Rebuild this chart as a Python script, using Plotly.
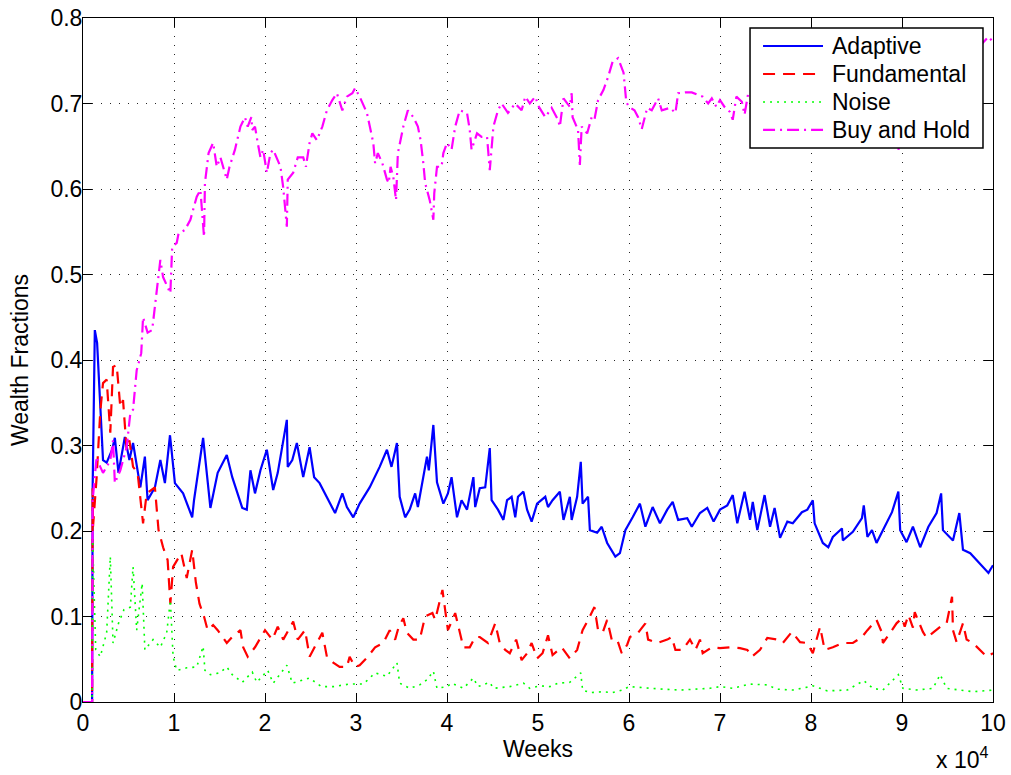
import plotly.graph_objects as go

# x values in units of 10^4 weeks
adaptive_x = [0, 0.10, 0.106, 0.13, 0.155, 0.19, 0.22, 0.26, 0.32, 0.35, 0.39, 0.46, 0.51, 0.55, 0.63, 0.68, 0.71, 0.79, 0.85, 0.90, 0.956, 1.01, 1.10, 1.20, 1.22, 1.32, 1.40, 1.48, 1.58, 1.64, 1.75, 1.80, 1.84, 1.89, 1.95, 2.02, 2.09, 2.14, 2.24, 2.25, 2.30, 2.35, 2.42, 2.49, 2.54, 2.60, 2.68, 2.77, 2.85, 2.90, 2.97, 3.04, 3.15, 3.26, 3.34, 3.39, 3.45, 3.48, 3.54, 3.59, 3.65, 3.68, 3.78, 3.80, 3.85, 3.89, 3.96, 4.01, 4.05, 4.11, 4.16, 4.22, 4.29, 4.31, 4.36, 4.42, 4.47, 4.49, 4.56, 4.62, 4.66, 4.71, 4.75, 4.78, 4.84, 4.88, 4.93, 4.99, 5.08, 5.11, 5.16, 5.24, 5.28, 5.35, 5.37, 5.43, 5.47, 5.49, 5.55, 5.57, 5.65, 5.70, 5.76, 5.85, 5.90, 5.96, 6.04, 6.12, 6.18, 6.26, 6.34, 6.42, 6.48, 6.54, 6.64, 6.69, 6.78, 6.86, 6.93, 7.00, 7.08, 7.14, 7.19, 7.27, 7.33, 7.36, 7.41, 7.49, 7.55, 7.60, 7.66, 7.74, 7.80, 7.90, 7.96, 8.02, 8.04, 8.13, 8.19, 8.24, 8.34, 8.35, 8.46, 8.56, 8.58, 8.62, 8.67, 8.72, 8.79, 8.89, 8.96, 8.98, 9.05, 9.12, 9.20, 9.29, 9.38, 9.43, 9.45, 9.56, 9.63, 9.67, 9.75, 9.82, 9.89, 9.95, 10.0]
adaptive_y = [0, 0, 0.25, 0.435, 0.42, 0.345, 0.283, 0.28, 0.295, 0.309, 0.268, 0.31, 0.283, 0.303, 0.251, 0.287, 0.236, 0.251, 0.283, 0.256, 0.312, 0.256, 0.244, 0.216, 0.236, 0.309, 0.227, 0.268, 0.289, 0.263, 0.227, 0.225, 0.271, 0.244, 0.271, 0.295, 0.248, 0.268, 0.330, 0.275, 0.283, 0.303, 0.263, 0.298, 0.263, 0.256, 0.240, 0.221, 0.244, 0.228, 0.216, 0.232, 0.251, 0.275, 0.295, 0.275, 0.303, 0.240, 0.216, 0.225, 0.244, 0.228, 0.287, 0.271, 0.324, 0.257, 0.232, 0.244, 0.263, 0.216, 0.236, 0.225, 0.263, 0.228, 0.250, 0.251, 0.297, 0.236, 0.225, 0.213, 0.236, 0.240, 0.216, 0.240, 0.246, 0.225, 0.211, 0.232, 0.240, 0.228, 0.236, 0.246, 0.213, 0.240, 0.213, 0.240, 0.281, 0.232, 0.240, 0.201, 0.198, 0.205, 0.186, 0.170, 0.174, 0.201, 0.216, 0.232, 0.205, 0.228, 0.209, 0.225, 0.234, 0.213, 0.215, 0.205, 0.221, 0.227, 0.211, 0.225, 0.230, 0.242, 0.209, 0.246, 0.213, 0.234, 0.201, 0.242, 0.205, 0.227, 0.192, 0.211, 0.209, 0.222, 0.225, 0.236, 0.209, 0.186, 0.181, 0.193, 0.203, 0.189, 0.199, 0.215, 0.230, 0.193, 0.201, 0.186, 0.201, 0.222, 0.246, 0.201, 0.187, 0.205, 0.181, 0.205, 0.221, 0.244, 0.201, 0.189, 0.221, 0.178, 0.174, 0.166, 0.158, 0.151, 0.160]

fundamental_x = [0, 0.10, 0.106, 0.11, 0.15, 0.19, 0.22, 0.26, 0.30, 0.33, 0.37, 0.41, 0.44, 0.48, 0.51, 0.55, 0.60, 0.66, 0.70, 0.79, 0.83, 0.88, 0.93, 0.96, 0.99, 1.08, 1.14, 1.20, 1.24, 1.28, 1.33, 1.37, 1.43, 1.48, 1.58, 1.64, 1.73, 1.76, 1.81, 1.89, 1.95, 2.00, 2.08, 2.14, 2.20, 2.31, 2.36, 2.44, 2.49, 2.57, 2.63, 2.68, 2.75, 2.82, 2.90, 2.93, 2.99, 3.04, 3.13, 3.21, 3.30, 3.37, 3.43, 3.47, 3.52, 3.56, 3.63, 3.70, 3.76, 3.84, 3.87, 3.95, 3.98, 4.01, 4.09, 4.14, 4.18, 4.25, 4.31, 4.36, 4.45, 4.53, 4.58, 4.64, 4.69, 4.76, 4.82, 4.88, 4.93, 4.99, 5.05, 5.11, 5.16, 5.26, 5.35, 5.43, 5.49, 5.57, 5.62, 5.66, 5.71, 5.76, 5.81, 5.87, 5.92, 5.98, 6.01, 6.10, 6.18, 6.21, 6.31, 6.42, 6.47, 6.51, 6.59, 6.67, 6.73, 6.78, 6.81, 6.91, 7.00, 7.11, 7.22, 7.30, 7.35, 7.44, 7.52, 7.63, 7.69, 7.79, 7.88, 7.96, 8.02, 8.10, 8.15, 8.24, 8.35, 8.46, 8.56, 8.62, 8.67, 8.72, 8.78, 8.79, 8.87, 8.94, 9.00, 9.03, 9.07, 9.12, 9.14, 9.23, 9.27, 9.34, 9.42, 9.49, 9.55, 9.56, 9.60, 9.67, 9.71, 9.78, 9.85, 9.93, 10.0]
fundamental_y = [0, 0, 0.25, 0.205, 0.263, 0.34, 0.373, 0.377, 0.315, 0.392, 0.394, 0.345, 0.353, 0.295, 0.306, 0.275, 0.268, 0.209, 0.244, 0.251, 0.201, 0.181, 0.166, 0.115, 0.158, 0.174, 0.145, 0.178, 0.140, 0.115, 0.100, 0.084, 0.090, 0.084, 0.069, 0.076, 0.084, 0.064, 0.053, 0.064, 0.075, 0.084, 0.073, 0.088, 0.073, 0.094, 0.073, 0.084, 0.053, 0.069, 0.081, 0.053, 0.046, 0.041, 0.041, 0.053, 0.041, 0.043, 0.053, 0.064, 0.069, 0.084, 0.073, 0.088, 0.098, 0.081, 0.073, 0.073, 0.100, 0.104, 0.096, 0.131, 0.104, 0.084, 0.104, 0.081, 0.064, 0.064, 0.076, 0.076, 0.069, 0.092, 0.069, 0.061, 0.057, 0.073, 0.049, 0.057, 0.069, 0.051, 0.057, 0.078, 0.055, 0.064, 0.051, 0.061, 0.084, 0.100, 0.111, 0.084, 0.081, 0.096, 0.073, 0.073, 0.057, 0.067, 0.076, 0.081, 0.092, 0.073, 0.069, 0.073, 0.076, 0.061, 0.061, 0.073, 0.061, 0.073, 0.057, 0.064, 0.063, 0.064, 0.063, 0.061, 0.053, 0.061, 0.075, 0.073, 0.069, 0.082, 0.070, 0.069, 0.057, 0.088, 0.061, 0.064, 0.069, 0.069, 0.076, 0.084, 0.090, 0.096, 0.081, 0.069, 0.081, 0.092, 0.098, 0.088, 0.102, 0.087, 0.105, 0.082, 0.075, 0.081, 0.088, 0.092, 0.123, 0.084, 0.070, 0.092, 0.073, 0.069, 0.061, 0.053, 0.057]

noise_x = [0, 0.10, 0.106, 0.14, 0.19, 0.26, 0.30, 0.33, 0.39, 0.45, 0.52, 0.55, 0.59, 0.65, 0.68, 0.77, 0.85, 0.92, 0.96, 0.99, 1.03, 1.14, 1.25, 1.32, 1.34, 1.40, 1.50, 1.58, 1.64, 1.75, 1.86, 1.91, 2.03, 2.09, 2.24, 2.30, 2.49, 2.62, 2.75, 2.93, 3.08, 3.21, 3.34, 3.45, 3.48, 3.59, 3.70, 3.78, 3.85, 3.89, 4.00, 4.05, 4.18, 4.29, 4.34, 4.47, 4.51, 4.69, 4.84, 4.91, 5.02, 5.13, 5.22, 5.35, 5.47, 5.49, 5.57, 5.71, 5.82, 5.93, 6.00, 6.20, 6.37, 6.56, 6.75, 6.89, 7.00, 7.14, 7.33, 7.52, 7.63, 7.80, 7.99, 8.02, 8.18, 8.40, 8.58, 8.68, 8.79, 8.96, 9.01, 9.16, 9.34, 9.42, 9.49, 9.63, 9.78, 10.0]
noise_y = [0, 0, 0.19, 0.061, 0.053, 0.081, 0.17, 0.069, 0.092, 0.108, 0.111, 0.158, 0.084, 0.139, 0.061, 0.073, 0.064, 0.081, 0.119, 0.053, 0.037, 0.040, 0.041, 0.065, 0.037, 0.032, 0.034, 0.041, 0.032, 0.023, 0.035, 0.023, 0.037, 0.022, 0.043, 0.022, 0.028, 0.018, 0.018, 0.021, 0.021, 0.034, 0.030, 0.046, 0.022, 0.016, 0.020, 0.026, 0.036, 0.016, 0.018, 0.022, 0.016, 0.028, 0.018, 0.023, 0.016, 0.018, 0.022, 0.016, 0.019, 0.018, 0.022, 0.023, 0.034, 0.014, 0.011, 0.012, 0.011, 0.014, 0.018, 0.016, 0.015, 0.014, 0.015, 0.016, 0.018, 0.016, 0.021, 0.020, 0.015, 0.014, 0.018, 0.019, 0.013, 0.014, 0.025, 0.016, 0.014, 0.032, 0.016, 0.014, 0.016, 0.032, 0.016, 0.014, 0.012, 0.014]

buyhold_x = [0, 0.10, 0.106, 0.15, 0.19, 0.22, 0.26, 0.30, 0.33, 0.35, 0.41, 0.48, 0.52, 0.55, 0.59, 0.64, 0.66, 0.71, 0.76, 0.78, 0.81, 0.85, 0.88, 0.96, 0.98, 1.03, 1.05, 1.12, 1.18, 1.25, 1.29, 1.31, 1.33, 1.34, 1.38, 1.43, 1.47, 1.51, 1.58, 1.61, 1.67, 1.73, 1.78, 1.81, 1.85, 1.86, 1.89, 1.92, 1.95, 1.98, 2.02, 2.06, 2.09, 2.17, 2.20, 2.24, 2.25, 2.31, 2.36, 2.42, 2.45, 2.49, 2.52, 2.57, 2.63, 2.68, 2.74, 2.79, 2.85, 2.90, 2.96, 2.99, 3.04, 3.12, 3.15, 3.19, 3.21, 3.24, 3.29, 3.34, 3.36, 3.38, 3.41, 3.44, 3.46, 3.52, 3.57, 3.63, 3.68, 3.71, 3.74, 3.76, 3.78, 3.81, 3.85, 3.86, 3.89, 3.94, 3.96, 4.00, 4.05, 4.09, 4.14, 4.22, 4.25, 4.27, 4.33, 4.38, 4.44, 4.47, 4.51, 4.56, 4.60, 4.67, 4.75, 4.82, 4.86, 4.91, 4.97, 5.01, 5.08, 5.15, 5.22, 5.24, 5.28, 5.35, 5.37, 5.38, 5.44, 5.46, 5.48, 5.54, 5.59, 5.62, 5.66, 5.72, 5.77, 5.82, 5.88, 5.92, 5.94, 5.97, 6.00, 6.06, 6.10, 6.14, 6.20, 6.25, 6.32, 6.36, 6.45, 6.51, 6.54, 6.62, 6.69, 6.76, 6.81, 6.87, 6.91, 6.96, 7.00, 7.05, 7.11, 7.14, 7.18, 7.24, 7.27, 7.31, 7.40, 7.50, 7.60, 7.70, 7.80, 7.90, 8.00, 8.10, 8.20, 8.30, 8.40, 8.50, 8.60, 8.70, 8.80, 8.90, 8.96, 9.00, 9.10, 9.20, 9.30, 9.40, 9.50, 9.60, 9.70, 9.80, 9.88, 9.95, 10.0]
buyhold_y = [0, 0, 0.236, 0.287, 0.275, 0.268, 0.275, 0.283, 0.306, 0.256, 0.271, 0.298, 0.338, 0.342, 0.388, 0.408, 0.45, 0.432, 0.435, 0.455, 0.478, 0.517, 0.497, 0.478, 0.532, 0.537, 0.548, 0.552, 0.564, 0.591, 0.599, 0.567, 0.544, 0.607, 0.642, 0.654, 0.626, 0.637, 0.611, 0.626, 0.646, 0.673, 0.684, 0.673, 0.684, 0.669, 0.673, 0.654, 0.637, 0.646, 0.619, 0.642, 0.646, 0.626, 0.602, 0.556, 0.611, 0.619, 0.637, 0.637, 0.626, 0.654, 0.665, 0.657, 0.673, 0.692, 0.704, 0.712, 0.692, 0.708, 0.712, 0.718, 0.708, 0.689, 0.673, 0.654, 0.630, 0.642, 0.630, 0.611, 0.607, 0.626, 0.614, 0.587, 0.642, 0.673, 0.692, 0.684, 0.673, 0.657, 0.630, 0.607, 0.599, 0.587, 0.564, 0.595, 0.626, 0.626, 0.642, 0.654, 0.646, 0.673, 0.692, 0.689, 0.669, 0.646, 0.665, 0.661, 0.661, 0.622, 0.673, 0.692, 0.700, 0.689, 0.700, 0.692, 0.708, 0.700, 0.708, 0.696, 0.684, 0.695, 0.681, 0.673, 0.706, 0.696, 0.712, 0.684, 0.669, 0.628, 0.673, 0.665, 0.684, 0.681, 0.704, 0.716, 0.731, 0.749, 0.753, 0.743, 0.736, 0.702, 0.696, 0.692, 0.684, 0.670, 0.695, 0.692, 0.706, 0.692, 0.695, 0.689, 0.712, 0.713, 0.713, 0.710, 0.708, 0.700, 0.706, 0.696, 0.704, 0.696, 0.690, 0.681, 0.708, 0.702, 0.687, 0.712, 0.705, 0.712, 0.720, 0.715, 0.725, 0.730, 0.720, 0.735, 0.740, 0.730, 0.745, 0.740, 0.730, 0.720, 0.700, 0.680, 0.645, 0.680, 0.700, 0.720, 0.740, 0.750, 0.760, 0.750, 0.760, 0.765, 0.770, 0.778, 0.772]

series_names = ["Adaptive", "Fundamental", "Noise", "Buy and Hold"]
series_colors = ["#0000FF", "#FF0000", "#00FF00", "#FF00FF"]
series_dash = ["solid", "12px,8px", "2px,5px", "12px,5px,2px,5px"]
series_width = [2.2, 2.2, 1.6, 2.2]

x_ticks = list(range(0, 11))
y_ticks = [0, 0.1, 0.2, 0.3, 0.4, 0.5, 0.6, 0.7, 0.8]
y_tick_labels = ["0", "0.1", "0.2", "0.3", "0.4", "0.5", "0.6", "0.7", "0.8"]

FONT = "Liberation Sans, Arial, Helvetica, sans-serif"
FS = 23

fig = go.Figure()
series_x = [adaptive_x, fundamental_x, noise_x, buyhold_x]
series_y = [adaptive_y, fundamental_y, noise_y, buyhold_y]
for name, xs, ys, col, dsh, w in zip(series_names, series_x, series_y, series_colors, series_dash, series_width):
    fig.add_trace(go.Scatter(x=xs, y=ys, mode="lines", name=name,
                             line=dict(color=col, width=w, dash=dsh), showlegend=False))

axis_common = dict(showline=True, linecolor="black", linewidth=1, mirror="ticks",
                   ticks="inside", ticklen=9, tickcolor="black", tickwidth=1,
                   showgrid=True, gridcolor="rgba(0,0,0,0.85)", gridwidth=1,
                   griddash="1px,8px", zeroline=False, automargin=False,
                   tickfont=dict(family=FONT, size=FS, color="black"))

fig.update_xaxes(range=[0, 10], tickvals=x_ticks, ticktext=[str(v) for v in x_ticks],
                 title=dict(text="Weeks", font=dict(family=FONT, size=FS, color="black"), standoff=0),
                 **axis_common)
fig.update_yaxes(range=[0, 0.8], tickvals=y_ticks, ticktext=y_tick_labels,
                 ticklabelstandoff=-5, **axis_common)

# y-axis title placed as rotated text left of the tick labels
fig.add_annotation(text="Wealth Fractions", xref="paper", yref="paper", x=-0.0692, y=0.5,
                   xanchor="center", yanchor="middle", textangle=-90, showarrow=False,
                   font=dict(family=FONT, size=FS, color="black"))

# exponent label under the x axis
fig.add_annotation(text="x 10<sup>4</sup>", xref="paper", yref="paper", x=0.9967, y=-0.082,
                   xanchor="right", yanchor="middle", showarrow=False,
                   font=dict(family=FONT, size=FS, color="black"))

# manual legend box (MATLAB style)
leg_x0, leg_x1, leg_y0, leg_y1 = 0.733, 0.989, 0.810, 0.9854
fig.add_shape(type="rect", xref="paper", yref="paper", x0=leg_x0, x1=leg_x1, y0=leg_y0, y1=leg_y1,
              fillcolor="white", line=dict(color="black", width=1.5), layer="above")
row_y = [0.9591, 0.9181, 0.8772, 0.8363]
for name, col, dsh, w, ry in zip(series_names, series_colors, series_dash, series_width, row_y):
    fig.add_shape(type="line", xref="paper", yref="paper", x0=0.7473, x1=0.8132, y0=ry, y1=ry,
                  line=dict(color=col, width=w, dash=dsh), layer="above")
    fig.add_annotation(text=name, xref="paper", yref="paper", x=0.8209, y=ry,
                       xanchor="left", yanchor="middle", showarrow=False,
                       font=dict(family=FONT, size=FS, color="black"))

fig.update_layout(
    width=1011, height=775,
    margin=dict(l=83, r=18, t=18, b=73),
    paper_bgcolor="white", plot_bgcolor="white",
    font=dict(family=FONT, size=FS, color="black"),
    showlegend=False,
)

# remove the default page margin so the figure sits at the window's top-left corner
fig.write_html("out.html", config={"displayModeBar": False},
               post_script="document.body.style.margin='0';")
